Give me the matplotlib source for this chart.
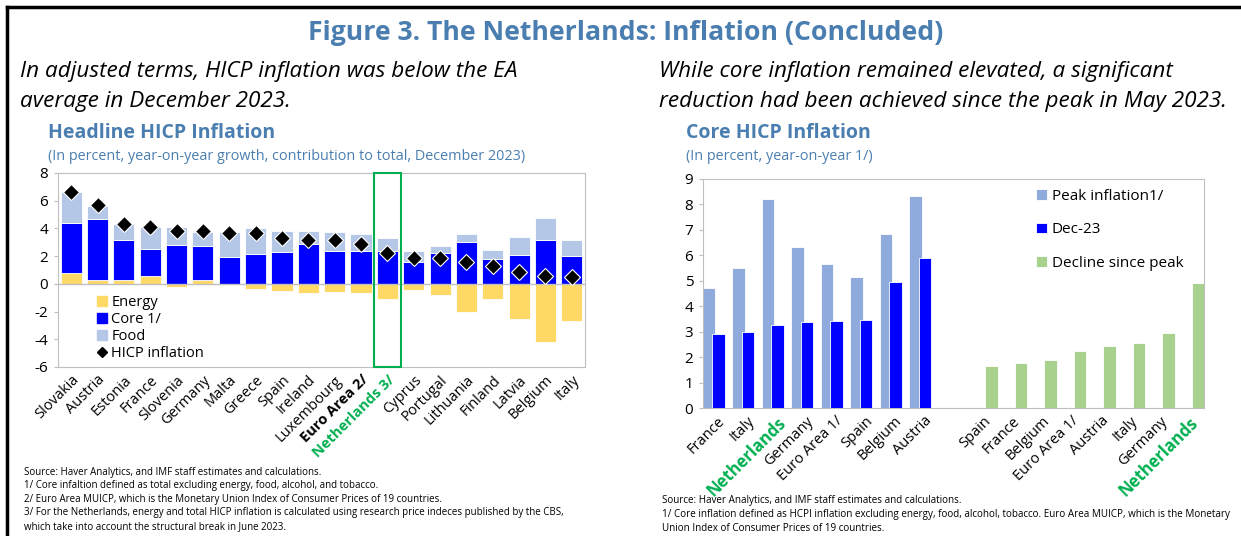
import numpy as np
import matplotlib
matplotlib.use('Agg')
import matplotlib.pyplot as plt
from matplotlib.lines import Line2D
from matplotlib.patches import Patch, Rectangle

plt.rcParams['font.family'] = ['Open Sans', 'DejaVu Sans']
plt.rcParams['axes.unicode_minus'] = False

# headline HICP, contributions (Dec 2023)
countries = ['Slovakia', 'Austria', 'Estonia', 'France', 'Slovenia', 'Germany', 'Malta',
             'Greece', 'Spain', 'Ireland', 'Luxembourg', 'Euro Area 2/', 'Netherlands 3/',
             'Cyprus', 'Portugal', 'Lithuania', 'Finland', 'Latvia', 'Belgium', 'Italy']
energy = [0.8, 0.25, 0.3, 0.55, -0.25, 0.3, 0.02, -0.35, -0.55, -0.65, -0.6, -0.65, -1.1,
          -0.45, -0.8, -2.0, -1.1, -2.5, -4.2, -2.65]
core = [3.6, 4.45, 2.9, 2.0, 2.8, 2.45, 1.9, 2.15, 2.3, 2.9, 2.4, 2.4, 2.35,
        1.55, 2.2, 3.0, 1.8, 2.1, 3.2, 2.0]
food = [2.2, 0.9, 1.1, 1.55, 1.3, 1.0, 1.8, 1.9, 1.55, 0.9, 1.35, 1.2, 0.95,
        0.8, 0.5, 0.6, 0.65, 1.3, 1.55, 1.2]
hicp = [6.6, 5.7, 4.3, 4.1, 3.8, 3.8, 3.7, 3.7, 3.3, 3.2, 3.15, 2.9, 2.2,
        1.9, 1.9, 1.6, 1.3, 0.85, 0.55, 0.5]

# core HICP, peak vs Dec-23
core_countries = ['France', 'Italy', 'Netherlands', 'Germany', 'Euro Area 1/', 'Spain', 'Belgium', 'Austria']
peak = [4.7, 5.52, 8.2, 6.31, 5.65, 5.14, 6.82, 8.32]
dec23 = [2.9, 2.97, 3.27, 3.37, 3.42, 3.47, 4.94, 5.88]
decline_countries = ['Spain', 'France', 'Belgium', 'Euro Area 1/', 'Austria', 'Italy', 'Germany', 'Netherlands']
decline = [1.66, 1.77, 1.87, 2.23, 2.43, 2.54, 2.93, 4.91]

TITLE = '#4A7EB0'
GREEN = '#00B050'
SPINE = '#BFBFBF'

fig = plt.figure(figsize=(12.41, 5.36), dpi=100)
W, H = 1241, 536


def px_axes(x0, y0, x1, y1):
    return fig.add_axes([x0 / W, 1 - y1 / H, (x1 - x0) / W, (y1 - y0) / H])


# frame lines
fig.add_artist(Line2D([7 / W, 1], [1 - 7 / H, 1 - 7 / H], color='black', lw=2.5))
fig.add_artist(Line2D([7 / W, 7 / W], [0, 1 - 7 / H], color='black', lw=2.5))

fig.text(626 / W, 1 - 33 / H, 'Figure 3. The Netherlands: Inflation (Concluded)', ha='center', va='center',
         fontsize=19.2, fontweight='bold', color=TITLE)
fig.text(20 / W, 1 - 71 / H, 'In adjusted terms, HICP inflation was below the EA', fontsize=16.2,
         style='italic', va='center')
fig.text(20 / W, 1 - 101 / H, 'average in December 2023.', fontsize=16.2, style='italic', va='center')
fig.text(659 / W, 1 - 71 / H, 'While core inflation remained elevated, a significant', fontsize=16.2,
         style='italic', va='center')
fig.text(659 / W, 1 - 101 / H, 'reduction had been achieved since the peak in May 2023.', fontsize=16.2,
         style='italic', va='center')
fig.text(48 / W, 1 - 133 / H, 'Headline HICP Inflation', fontsize=14, fontweight='bold', color=TITLE, va='center')
fig.text(48 / W, 1 - 157 / H, '(In percent, year-on-year growth, contribution to total, December 2023)',
         fontsize=10.4, color=TITLE, va='center')
fig.text(686 / W, 1 - 133 / H, 'Core HICP Inflation', fontsize=14, fontweight='bold', color=TITLE, va='center')
fig.text(686 / W, 1 - 157 / H, '(In percent, year-on-year 1/)', fontsize=10.4, color=TITLE, va='center')

# ---- left chart
ax = px_axes(58, 173, 585, 367)
x = np.arange(len(countries))
comps = np.array([energy, core, food])
pos_base = np.zeros(len(countries))
neg_base = np.zeros(len(countries))
colors = ['#FFD966', '#0000FF', '#B4C7E7']
labels = ['Energy', 'Core 1/', 'Food']
for vals, c in zip(comps, colors):
    bottom = np.where(vals >= 0, pos_base, neg_base)
    ax.bar(x, vals, bottom=bottom, width=0.8, color=c, edgecolor='white', linewidth=0.6, zorder=2)
    pos_base = pos_base + np.where(vals >= 0, vals, 0)
    neg_base = neg_base + np.where(vals < 0, vals, 0)
ax.plot(x, hicp, ls='none', marker='D', ms=8, color='black', mec='white', mew=0.8, zorder=4)
ax.axhline(0, color=SPINE, lw=1, zorder=3)
ax.set_xlim(-0.5, len(countries) - 0.5)
ax.set_ylim(-6, 8)
ax.set_yticks(range(-6, 9, 2))
ax.set_xticks(x)
ax.set_xticklabels(countries, rotation=45, ha='right', rotation_mode='anchor', fontsize=10.5)
for t in ax.get_xticklabels():
    if t.get_text().startswith('Euro'):
        t.set_fontweight('bold')
    if t.get_text().startswith('Netherlands'):
        t.set_fontweight('bold')
        t.set_color(GREEN)
ax.tick_params(axis='x', length=0, pad=4)
ax.tick_params(axis='y', labelsize=11, color=SPINE, length=3, pad=4)
for s in ax.spines.values():
    s.set_color(SPINE)
nl = countries.index('Netherlands 3/')
ax.add_patch(Rectangle((nl - 0.5, -6), 1, 14, fill=False, edgecolor=GREEN, lw=1.5, zorder=5, clip_on=False))
handles = [Patch(color=c, label=l) for c, l in zip(colors, labels)]
handles.append(Line2D([], [], ls='none', marker='D', ms=5, color='black', label='HICP inflation'))
ax.legend(handles=handles, loc='upper left', bbox_to_anchor=(0.06, 0.41), frameon=False, fontsize=10.5,
          handlelength=0.7, handleheight=0.7, handletextpad=0.3, labelspacing=0.15, borderpad=0)

# ---- right chart
ax2 = px_axes(703, 179, 1204, 408)
xb = np.arange(len(core_countries))
xg = np.arange(len(decline_countries)) + len(core_countries) + 1
ax2.bar(xb, peak, width=0.42, align='edge', color='#8FAADC', edgecolor='white', linewidth=0.6,
        label='Peak inflation1/', zorder=2)
ax2.bar(xb + 0.32, dec23, width=0.42, align='edge', color='#0000FF', edgecolor='white', linewidth=0.6,
        label='Dec-23', zorder=3)
ax2.bar(xg + 0.58, decline, width=0.42, align='edge', color='#A9D18E', edgecolor='white', linewidth=0.6,
        label='Decline since peak', zorder=2)
ax2.set_xlim(0, xg[-1] + 1)
ax2.set_ylim(0, 9)
ax2.set_yticks(range(0, 10))
ax2.set_xticks(np.concatenate([xb, xg]) + 0.5)
ax2.set_xticklabels(core_countries + decline_countries, rotation=45, ha='right', rotation_mode='anchor',
                    fontsize=10.5)
for t in ax2.get_xticklabels():
    if t.get_text() == 'Netherlands':
        t.set_fontweight('bold')
        t.set_color(GREEN)
        t.set_fontsize(12)
ax2.tick_params(axis='x', length=0, pad=4)
ax2.tick_params(axis='y', labelsize=11, color=SPINE, length=3, pad=4)
for s in ax2.spines.values():
    s.set_color(SPINE)
ax2.legend(loc='upper left', bbox_to_anchor=(0.65, 0.99), frameon=False, fontsize=11,
           handlelength=0.7, handleheight=0.7, handletextpad=0.3, labelspacing=1.2, borderpad=0)

# footnotes
notes_l = ['Source: Haver Analytics, and IMF staff estimates and calculations.',
           '1/ Core infaltion defined as total excluding energy, food, alcohol, and tobacco.',
           '2/ Euro Area MUICP, which is the Monetary Union Index of Consumer Prices of 19 countries.',
           '3/ For the Netherlands, energy and total HICP inflation is calculated using research price indeces published by the CBS,',
           'which take into account the structural break in June 2023.']
for i, n in enumerate(notes_l):
    fig.text(24 / W, 1 - (472 + i * 13.6) / H, n, fontsize=7.05, va='center')
notes_r = ['Source: Haver Analytics, and IMF staff estimates and calculations.',
           '1/ Core inflation defined as HCPI inflation excluding energy, food, alcohol, tobacco. Euro Area MUICP, which is the Monetary',
           'Union Index of Consumer Prices of 19 countries.']
for i, n in enumerate(notes_r):
    fig.text(662 / W, 1 - (501 + i * 13.6) / H, n, fontsize=7.1, va='center')

fig.savefig('out.png', dpi=100)
